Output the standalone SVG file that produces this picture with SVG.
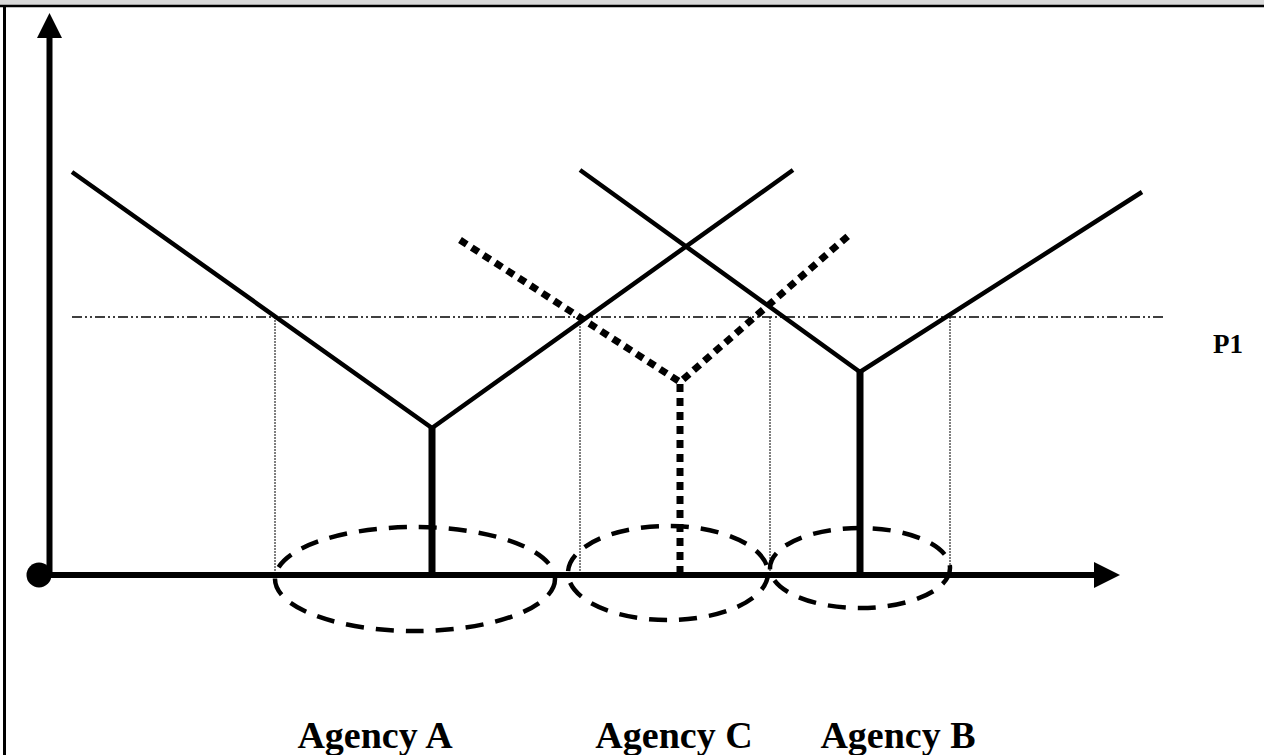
<svg xmlns="http://www.w3.org/2000/svg" width="1264" height="755" viewBox="0 0 1264 755">
<defs>
<style>
.v{fill:none;stroke:#000;stroke-width:4.5;stroke-linecap:butt}
.stem{fill:none;stroke:#000;stroke-width:7}
.dot{fill:none;stroke:#000;stroke-width:7;stroke-dasharray:8 6}
.thin{fill:none;stroke:#000;stroke-width:1;stroke-dasharray:2 1}
.p1{fill:none;stroke:#000;stroke-width:1.5;stroke-dasharray:10 3 2 3 2 3}
.ell{fill:none;stroke:#000;stroke-width:4.5;stroke-dasharray:18 12}
.lbl{font-family:"Liberation Serif","Times New Roman",serif;font-weight:bold;fill:#000}
</style>
</defs>
<rect x="0" y="0" width="1264" height="755" fill="#fff"/>
<rect x="0" y="0" width="1264" height="5" fill="#d9d9d9"/>
<line x1="0" y1="6" x2="1264" y2="6" stroke="#000" stroke-width="2.5"/>
<line x1="4.5" y1="6" x2="4.5" y2="755" stroke="#000" stroke-width="3"/>

<g id="axes">
<line x1="49.5" y1="36" x2="49.5" y2="575" stroke="#000" stroke-width="6"/>
<polygon points="49.5,13 37,38 62,38" fill="#000"/>
<line x1="39" y1="575" x2="1096" y2="575" stroke="#000" stroke-width="6"/>
<polygon points="1120,575 1094,562 1094,588" fill="#000"/>
<circle cx="39" cy="575" r="12.5" fill="#000"/>
</g>

<g id="p1-line">
<line class="p1" x1="72" y1="317" x2="1166" y2="317"/>
<text class="lbl" x="1213" y="353" font-size="27">P1</text>
</g>

<g id="connectors">
<line class="thin" x1="275" y1="317" x2="275" y2="575"/>
<line class="thin" x1="580" y1="317" x2="580" y2="575"/>
<line class="thin" x1="770" y1="317" x2="770" y2="575"/>
<line class="thin" x1="950" y1="317" x2="950" y2="575"/>
</g>

<g id="agency-a">
<polyline class="v" points="72,172 432,428 793,170"/>
<line class="stem" x1="432" y1="426" x2="432" y2="575"/>
<ellipse class="ell" cx="415" cy="579" rx="140" ry="52"/>
<text class="lbl" x="375" y="748" font-size="38" text-anchor="middle">Agency A</text>
</g>

<g id="agency-c">
<polyline class="dot" points="460,240 680,382 848,236"/>
<line class="dot" x1="680" y1="384" x2="680" y2="575"/>
<ellipse class="ell" cx="668" cy="573" rx="100" ry="47"/>
<text class="lbl" x="674" y="748" font-size="38" text-anchor="middle">Agency C</text>
</g>

<g id="agency-b">
<polyline class="v" points="580,170 860,372 1142,192"/>
<line class="stem" x1="860" y1="370" x2="860" y2="575"/>
<ellipse class="ell" cx="860" cy="568" rx="90" ry="40"/>
<text class="lbl" x="898" y="748" font-size="38" text-anchor="middle">Agency B</text>
</g>
</svg>
